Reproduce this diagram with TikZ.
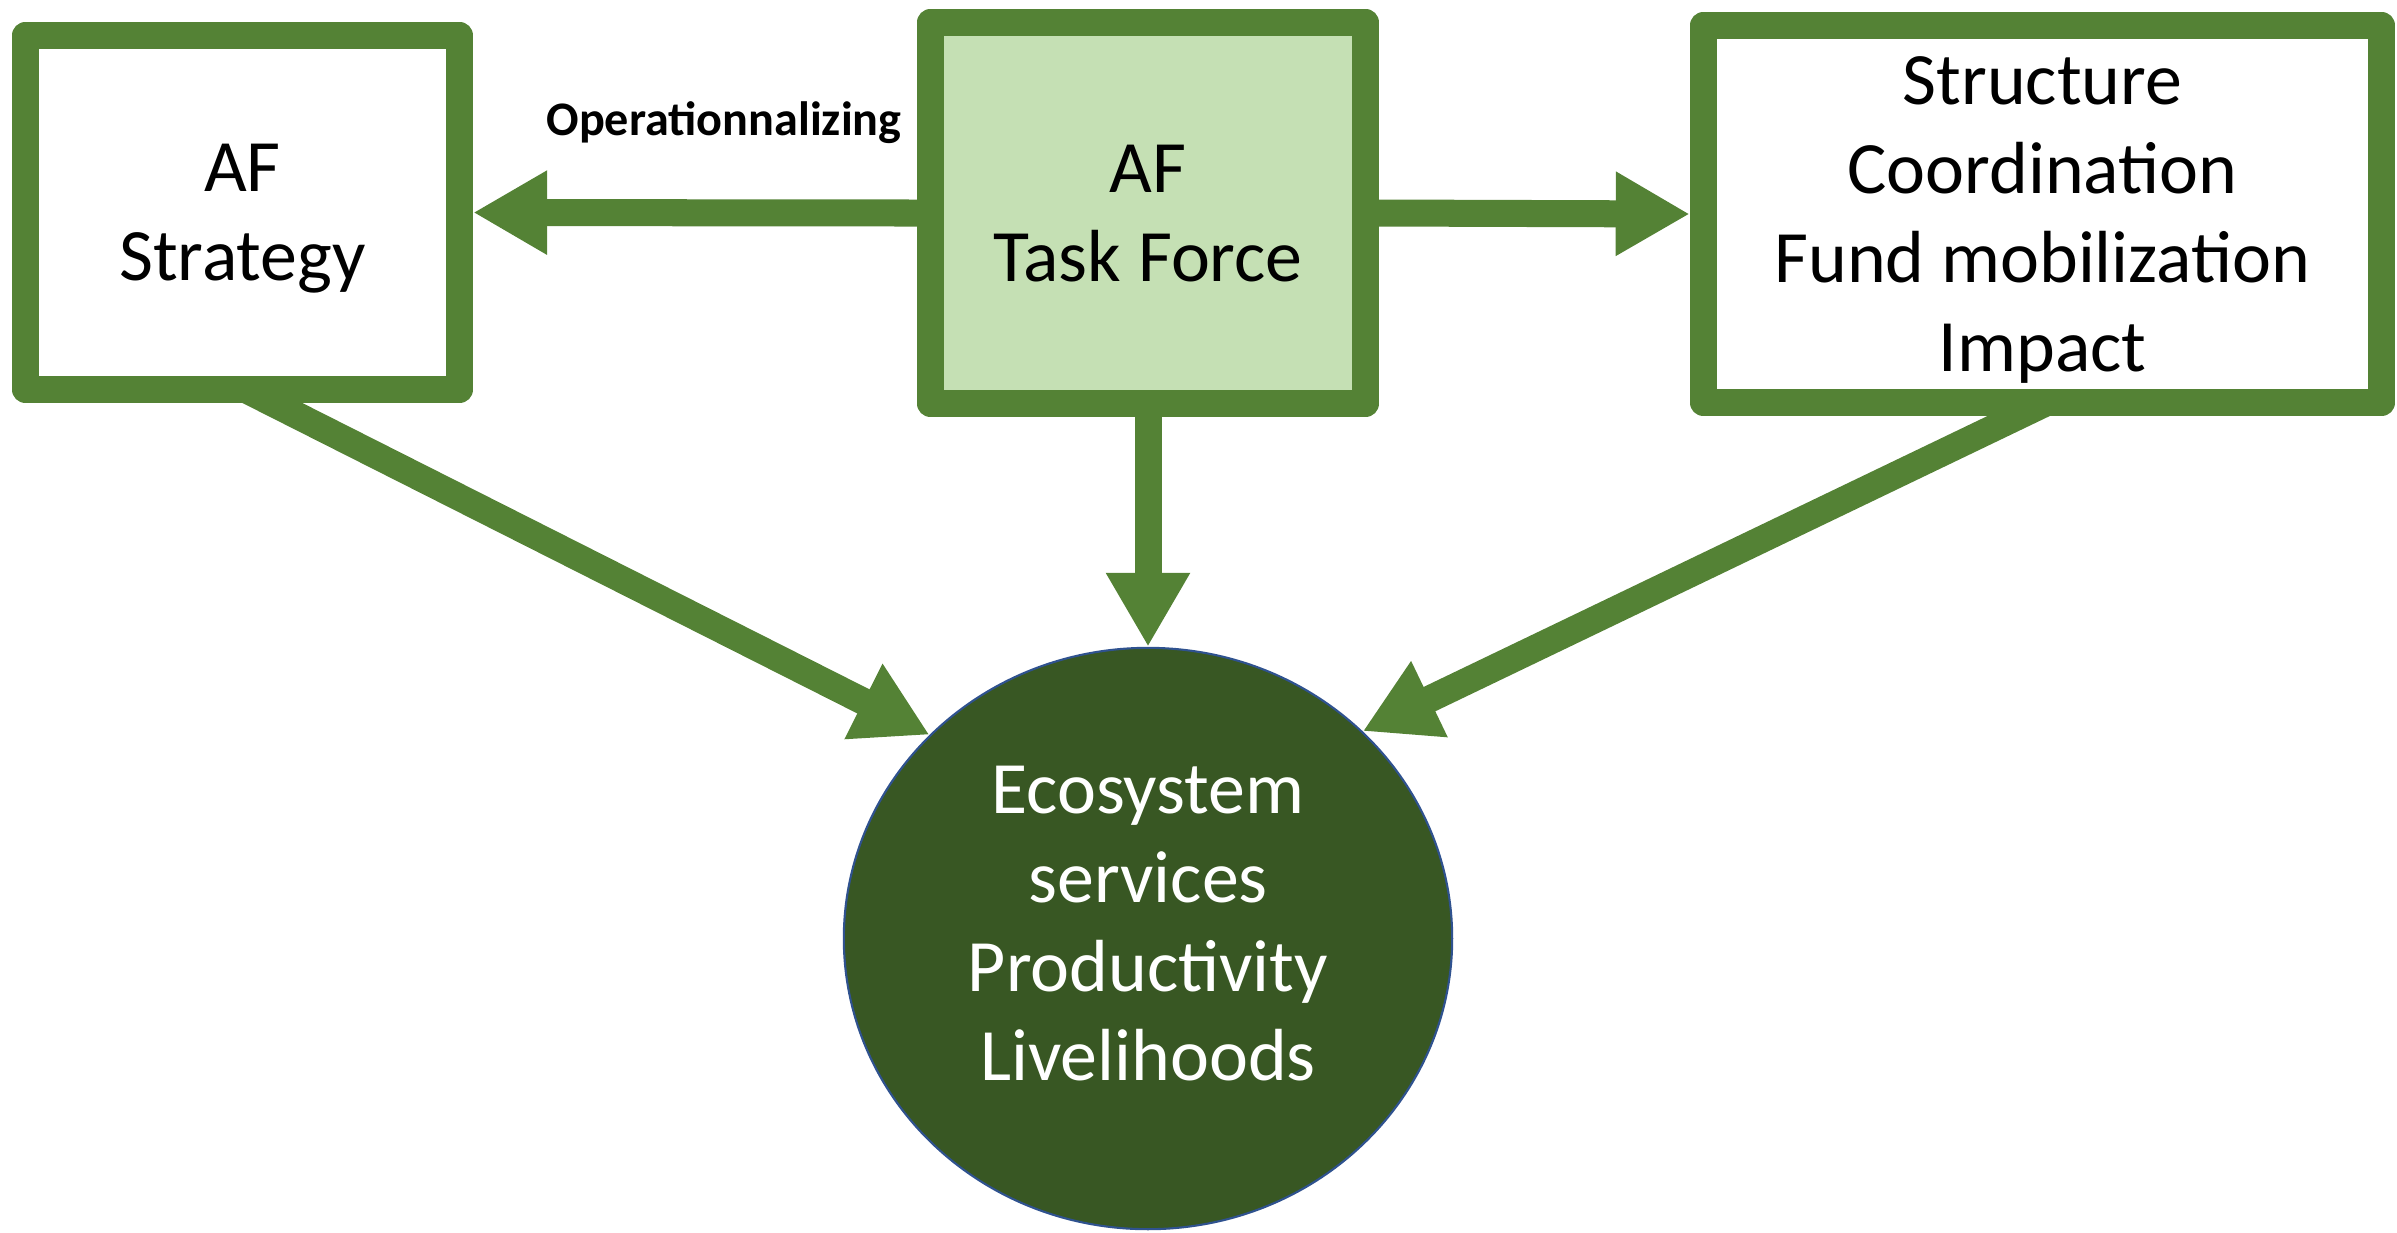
\documentclass[tikz,border=0pt]{standalone}
\usepackage{fontspec}
\setmainfont{Carlito}
\usetikzlibrary{positioning,arrows.meta,shapes.geometric,backgrounds}

\definecolor{afgreen}{HTML}{548235}
\definecolor{aflight}{HTML}{C5E0B4}
\definecolor{afdark}{HTML}{385723}
\definecolor{afblue}{HTML}{2F528F}

\begin{document}
\begin{tikzpicture}[
    x=0.01cm, y=-0.01cm,
    box/.style={draw=afgreen, line width=0.27cm, line join=round, fill=white, align=center, inner sep=0pt, text depth=0pt, font=\fontsize{21}{25.3}\selectfont},
    flow/.style={draw=afgreen, line width=0.27cm, -{Triangle[length=0.74cm, width=0.79cm]}},
]
    \useasboundingbox (0,0) rectangle (2397,1232);

    \node[box, minimum width=4.34cm, minimum height=3.54cm] (strat) at (242.5,212.5) {AF\\Strategy};
    \node[box, fill=aflight, minimum width=4.35cm, minimum height=3.81cm] (task) at (1148,213) {AF\\Task Force};
    \node[box, minimum width=6.78cm, minimum height=3.77cm] (roles) at (2042.5,214) {Structure\\Coordination\\Fund mobilization\\Impact};
    \node[ellipse, draw=afblue, line width=0.6pt, fill=afdark, text=white, inner sep=0pt, text depth=0.3cm, minimum width=6.08cm, minimum height=5.81cm, align=center, font=\fontsize{21}{25.3}\selectfont] (eco) at (1148,938.5) {Ecosystem\\services\\Productivity\\Livelihoods};

    \node[font=\bfseries\fontsize{13.7}{16}\selectfont] (oplabel) at (724,123) {Operationnalizing};

    \begin{scope}[on background layer]
        \draw[flow] (task.west) -- (strat.east);
        \draw[flow] (task.east) -- (roles.west);
        \draw[flow] (task.south) -- (eco.north);
        \draw[flow] ([xshift=-0.095cm, yshift=0.2cm]strat.south) -- (eco.137);
        \draw[flow] ([xshift=0.175cm, yshift=0.2cm]roles.south) -- (eco.44);
    \end{scope}
\end{tikzpicture}
\end{document}
